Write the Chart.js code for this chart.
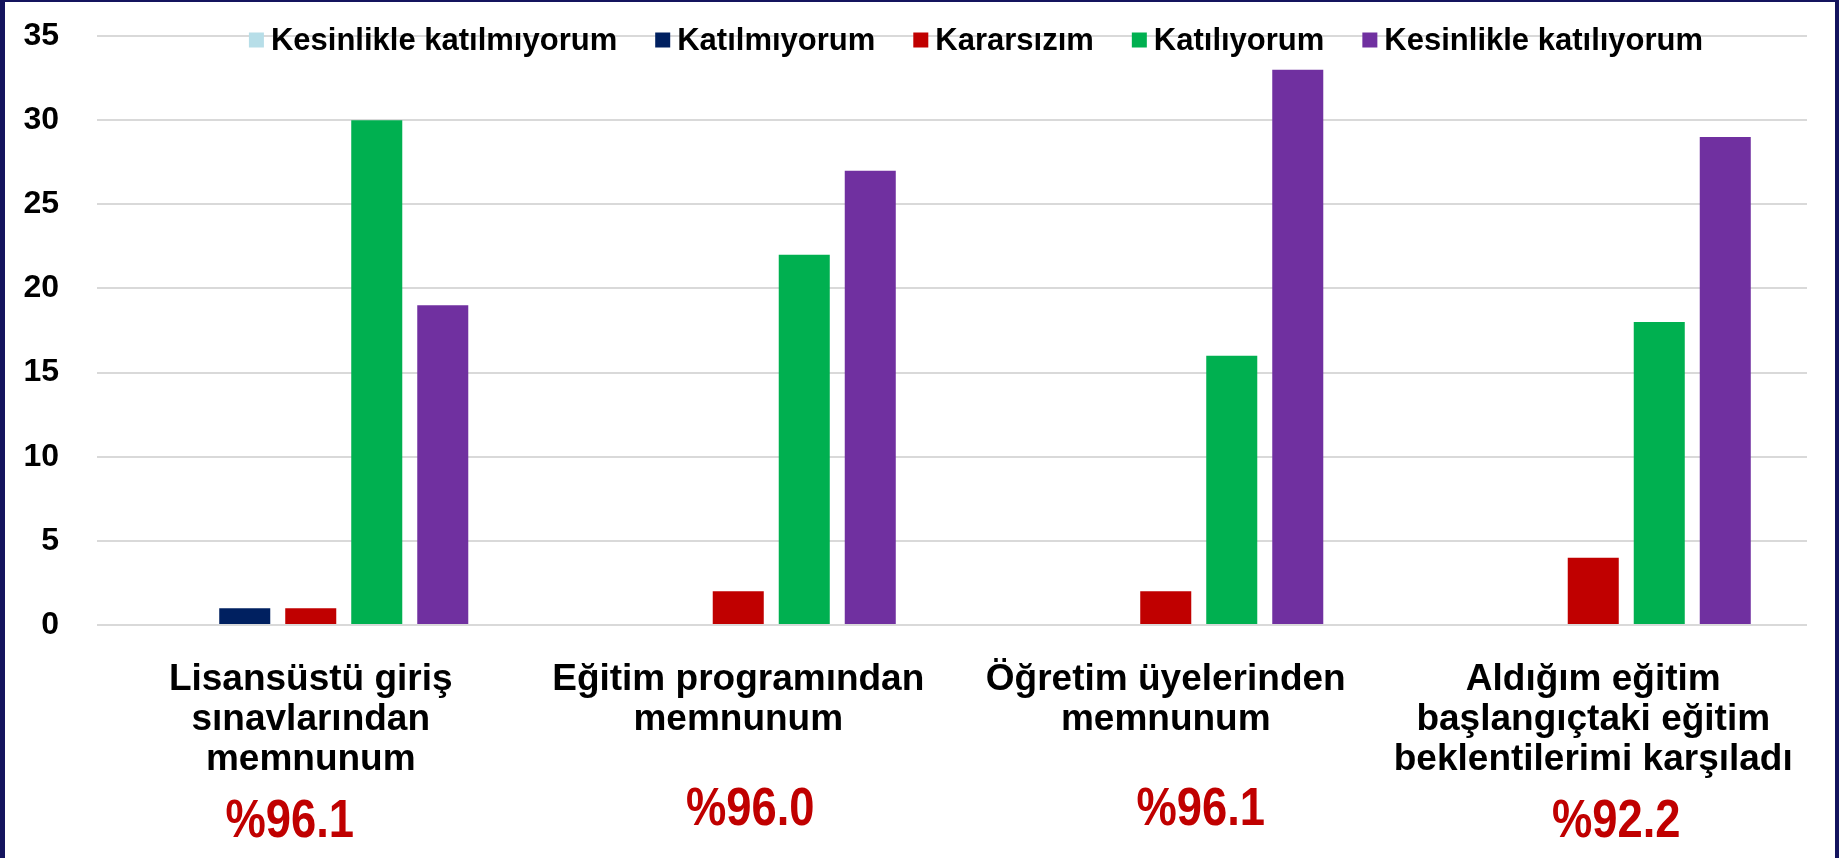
<!DOCTYPE html>
<html>
<head>
<meta charset="utf-8">
<script src="https://cdn.jsdelivr.net/npm/chart.js@4.4.1/dist/chart.umd.min.js"></script>
<style>
  html, body { margin: 0; padding: 0; background: #fff; }
  #frame {
    position: fixed; left: 0; top: 0; width: 1839px; height: 858px;
    box-sizing: border-box; pointer-events: none;
    border-left: 5px solid #14145e; border-top: 2px solid #14145e; border-right: 4px solid #14145e;
  }
  canvas { display: block; }
</style>
</head>
<body>
<canvas id="grafica" width="1839" height="858"></canvas>
<div id="frame"></div>
<script>
// categorias (eje x)
const categorias = [
  ["Lisansüstü giriş", "sınavlarından", "memnunum"],
  ["Eğitim programından", "memnunum"],
  ["Öğretim üyelerinden", "memnunum"],
  ["Aldığım eğitim", "başlangıçtaki eğitim", "beklentilerimi karşıladı"]
];

// series
const kesinlikleKatilmiyorum = [0, 0, 0, 0];
const katilmiyorum = [1, 0, 0, 0];
const kararsizim = [1, 2, 2, 4];
const katiliyorum = [30, 22, 16, 18];
const kesinlikleKatiliyorum = [19, 27, 33, 29];

// porcentajes debajo de cada categoria
const porcentajes = ["%96.1", "%96.0", "%96.1", "%92.2"];

// eje y
const yMin = 0;
const yMax = 35;
const yPaso = 5;

const fuente = "'Liberation Sans', Arial, sans-serif";
// pequeño corrimiento horizontal de los porcentajes (son cuadros de texto sueltos)
const corrimientoX = [-21, 12, 35, 23];

// leyenda dentro del grafico y porcentajes en rojo
const extrasPlugin = {
  id: "extras",
  afterDraw(chart) {
    const ctx = chart.ctx;
    const x = chart.scales.x;
    ctx.save();

    // leyenda
    ctx.font = "bold 31px " + fuente;
    ctx.textBaseline = "middle";
    ctx.textAlign = "left";
    const caja = 15, sep = 7, hueco = 38;
    const items = chart.data.datasets.map(d => ({ t: d.label, c: d.backgroundColor, w: ctx.measureText(d.label).width }));
    const total = items.reduce((a, it) => a + caja + sep + it.w, 0) + hueco * (items.length - 1);
    let cx = 976 - total / 2;
    const cy = 40;
    items.forEach(it => {
      ctx.fillStyle = it.c;
      ctx.fillRect(cx, cy - caja / 2, caja, caja);
      ctx.fillStyle = "#000";
      ctx.fillText(it.t, cx + caja + sep, cy + 1);
      cx += caja + sep + it.w + hueco;
    });

    // porcentajes
    ctx.font = "bold 54px " + fuente;
    ctx.fillStyle = "#C00000";
    ctx.textAlign = "center";
    porcentajes.forEach((p, i) => {
      const y = categorias[i].length === 3 ? 822 : 810;
      ctx.save();
      ctx.translate(x.getPixelForValue(i) + corrimientoX[i], y);
      ctx.scale(0.84, 1);
      ctx.fillText(p, 0, 0);
      ctx.restore();
    });
    ctx.restore();
  }
};

const myChart = new Chart("grafica", {
  type: "bar",
  data: {
    labels: categorias,
    datasets: [
      { label: "Kesinlikle katılmıyorum", data: kesinlikleKatilmiyorum, backgroundColor: "#B7DEE8" },
      { label: "Katılmıyorum", data: katilmiyorum, backgroundColor: "#002060" },
      { label: "Kararsızım", data: kararsizim, backgroundColor: "#C00000" },
      { label: "Katılıyorum", data: katiliyorum, backgroundColor: "#00B050" },
      { label: "Kesinlikle katılıyorum", data: kesinlikleKatiliyorum, backgroundColor: "#7030A0" }
    ]
  },
  options: {
    responsive: false,
    animation: false,
    categoryPercentage: 0.772,
    barPercentage: 0.773,
    layout: { padding: { top: 36, right: 32, left: 0, bottom: 0 } },
    plugins: {
      tooltip: { enabled: false },
      legend: { display: false }
    },
    scales: {
      x: {
        grid: { display: false },
        border: { display: false },
        ticks: {
          color: "#000",
          padding: 27,
          maxRotation: 0,
          autoSkip: false,
          font: { family: fuente, size: 37, weight: "bold", lineHeight: 1.08 }
        },
        afterFit(s) { s.height = 233; }
      },
      y: {
        min: yMin,
        max: yMax,
        grid: { color: "#D9D9D9", lineWidth: 2, drawTicks: false },
        border: { display: false },
        ticks: {
          stepSize: yPaso,
          color: "#000",
          padding: 38,
          font: { family: fuente, size: 32, weight: "bold" }
        },
        afterFit(s) { s.width = 97; s.paddingTop = 0; s.paddingBottom = 0; }
      }
    }
  },
  plugins: [extrasPlugin]
});
</script>
</body>
</html>
